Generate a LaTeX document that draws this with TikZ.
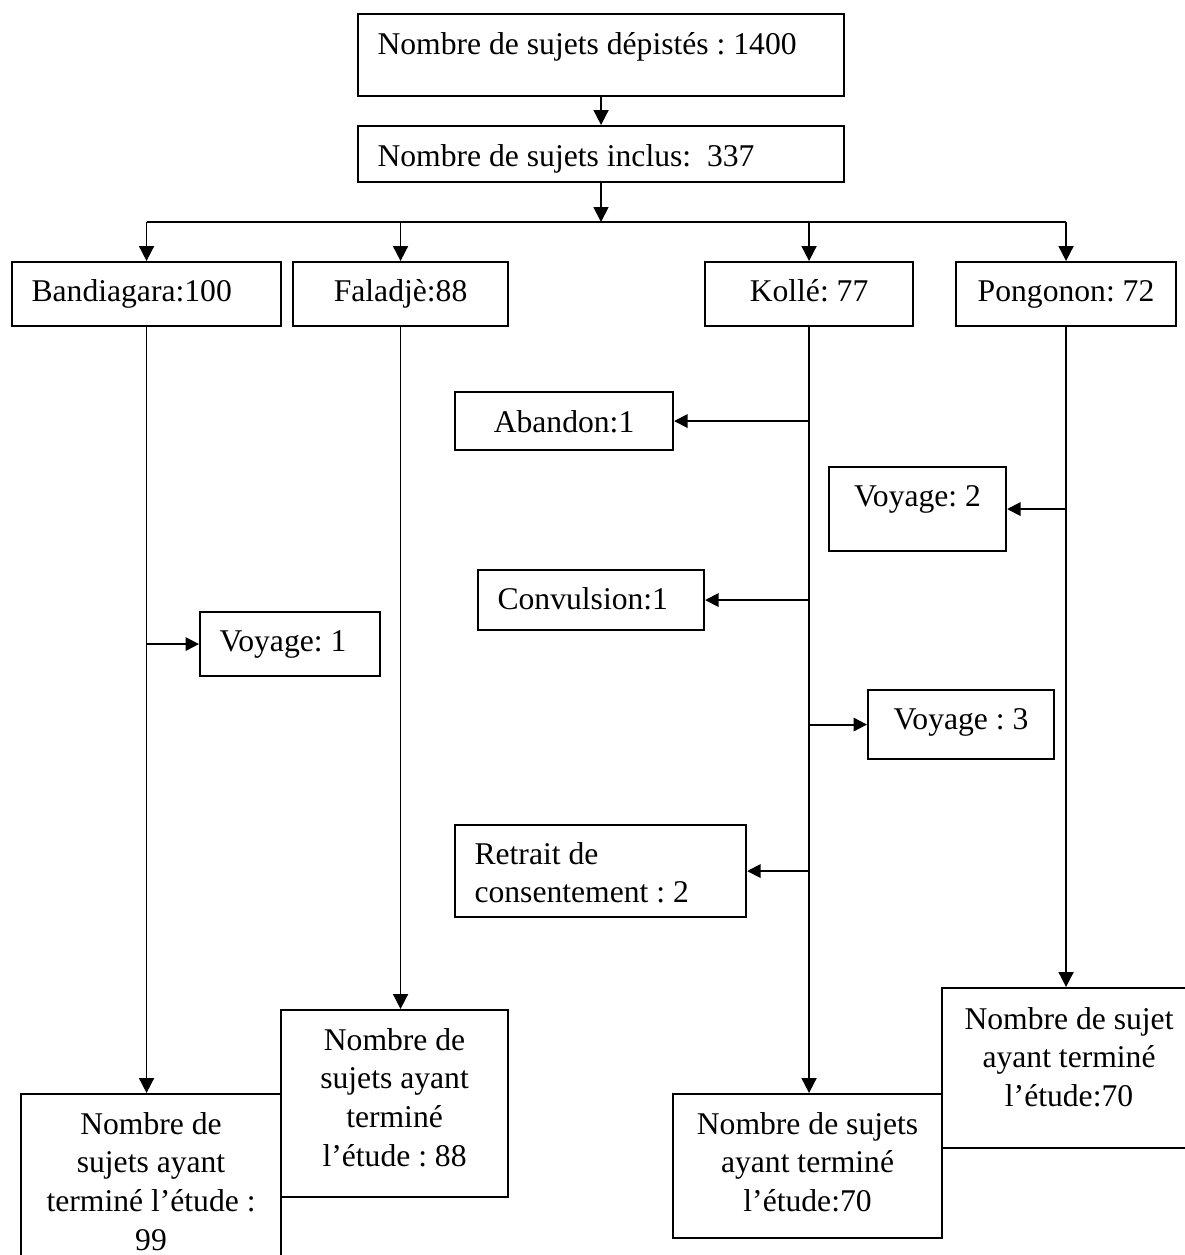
\documentclass[tikz,border=0pt]{standalone}
\usepackage{fontspec}
\setmainfont{Liberation Serif}
\usetikzlibrary{arrows.meta}
\frenchspacing
\tikzset{
  boite/.style={draw, line width=1.2pt, rectangle, inner sep=0pt, anchor=north west, align=center},
  gauche/.style={align=flush left, inner xsep=0.39cm, text width=#1},
  centre/.style={align=flush center, text width=#1},
  ligne/.style 2 args={text height=#1, text depth=#2},
  fleche/.style={-{Triangle[length=0.3cm,width=0.3cm]}, line width=1pt},
  petite/.style={-{Triangle[length=0.27cm,width=0.27cm]}, line width=1.1pt},
}
\begin{document}
\begin{tikzpicture}[font=\fontsize{18}{22}\selectfont]
        \useasboundingbox (0,0) rectangle (23.70,-25.10);
        % les effectifs de depart
        \node[boite, gauche=8.94cm, minimum width=9.72cm, ligne={0.8cm}{0.84cm}] (depistes) at (7.14,-0.26) {Nombre de sujets dépistés : 1400};
        \node[boite, gauche=8.94cm, minimum width=9.72cm, ligne={0.8cm}{0.32cm}] (inclus) at (7.14,-2.50) {Nombre de sujets inclus:\ \ 337};
        \coordinate (bus) at (12.02,-4.44);
        %% les quatre sites
        \node[boite, gauche=4.60cm, minimum width=5.38cm, minimum height=1.28cm, ligne={0.5cm}{0.22cm}] (band) at (0.22,-5.22) {Bandiagara:100};
        \node[boite, minimum width=4.30cm, minimum height=1.28cm, ligne={0.5cm}{0.22cm}] (faladje) at (5.84,-5.22) {Faladjè:88};
        \node[boite, minimum width=4.16cm, minimum height=1.28cm, ligne={0.5cm}{0.22cm}] (kolle) at (14.08,-5.22) {Kollé: 77};
        \node[boite, minimum width=4.40cm, minimum height=1.28cm, ligne={0.5cm}{0.22cm}] (pong) at (19.10,-5.22) {Pongonon: 72};
        %% les sorties d'etude
        \node[boite, minimum width=4.36cm, minimum height=1.16cm, ligne={0.5cm}{0.06cm}] (abandon) at (9.08,-7.82) {Abandon:1};
        \node[boite, minimum width=3.54cm, ligne={0.78cm}{0.9cm}] (voyage2) at (16.56,-9.32) {Voyage: 2};
        \node[boite, gauche=3.74cm, minimum width=4.52cm, minimum height=1.20cm, ligne={0.5cm}{0.14cm}] (convulsion) at (9.54,-11.38) {Convulsion:1};
        \node[boite, gauche=2.82cm, minimum width=3.60cm, minimum height=1.28cm, ligne={0.5cm}{0.22cm}] (voyage1) at (3.98,-12.22) {Voyage: 1};
        \node[boite, minimum width=3.72cm, minimum height=1.38cm, ligne={0.5cm}{0.32cm}] (voyage3) at (17.34,-13.78) {Voyage : 3};
        \node[boite, gauche=5.04cm, minimum width=5.82cm, minimum height=1.84cm, ligne={0.5cm}{0.78cm}] (retrait) at (9.08,-16.48) {Retrait de\\consentement : 2};
        %% les effectifs finaux
        \node[boite, centre=4.30cm, minimum width=4.54cm, minimum height=3.74cm, ligne={0.5cm}{2.64cm}] (faladjefin) at (5.60,-20.18) {Nombre de\\sujets ayant\\terminé\\l’étude : 88};
        \node[boite, centre=5.00cm, minimum width=5.20cm, minimum height=3.38cm, ligne={0.5cm}{2.28cm}] (bandfin) at (0.40,-21.86) {Nombre de\\sujets ayant\\terminé l’étude :\\99};
        \node[boite, centre=5.20cm, minimum width=5.38cm, minimum height=2.88cm, ligne={0.5cm}{1.78cm}] (kollefin) at (13.44,-21.86) {Nombre de sujets\\ayant terminé\\l’étude:70};
        \node[boite, centre=4.90cm, minimum width=5.08cm, minimum height=3.20cm, ligne={0.5cm}{2.06cm}] (pongfin) at (18.82,-19.74) {Nombre de sujet\\ayant terminé\\l’étude:70};
        % les fleches
        \draw[fleche] (depistes) -- (inclus);
        \draw[fleche] (inclus.south -| bus) -- (bus);
        \draw[line width=1pt] (band.north |- bus) -- (pong.north |- bus);
        \foreach \n/\f in {band/bandfin,faladje/faladjefin,kolle/kollefin,pong/pongfin}
        {
          \draw[fleche] (\n.north |- bus) -- (\n.north);
          \draw[fleche] (\n.south) -- (\n.south |- \f.north);
        }
        \draw[petite] (voyage1.west -| band.south) -- (voyage1.west);
        \foreach \s in {abandon,convulsion,retrait}
          \draw[petite] (\s.east -| kolle.south) -- (\s.east);
        \draw[petite] (voyage3.west -| kolle.south) -- (voyage3.west);
        \draw[petite] (voyage2.east -| pong.south) -- (voyage2.east);
      \end{tikzpicture}
\end{document}
